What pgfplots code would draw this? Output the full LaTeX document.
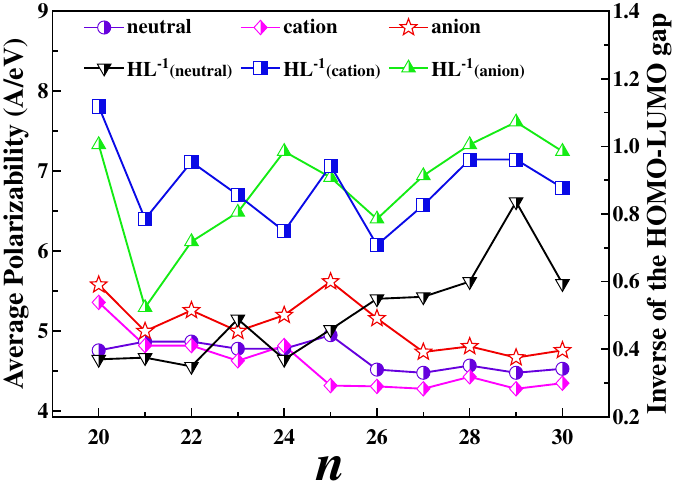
\documentclass[border=0pt]{standalone}
\usepackage[T1]{fontenc}
\renewcommand{\rmdefault}{ptm}
\usepackage{pgfplots}
\pgfplotsset{compat=1.18}
\definecolor{cneu}{RGB}{102,0,221}
\definecolor{ccat}{RGB}{255,0,255}
\definecolor{cani}{RGB}{240,0,0}
\definecolor{cblu}{RGB}{10,10,230}
\definecolor{cgrn}{RGB}{20,235,20}

% half-filled marks: left half white, right half fill colour
\pgfdeclareplotmark{hcirc}{%
 \begin{pgfscope}\pgfsetfillcolor{white}\pgfpathcircle{\pgfpointorigin}{\pgfplotmarksize}\pgfusepathqfill\end{pgfscope}%
 \pgfpathmoveto{\pgfqpoint{0pt}{\pgfplotmarksize}}%
 \pgfpatharc{90}{-90}{\pgfplotmarksize}%
 \pgfpathclose\pgfusepathqfill
 \pgfpathcircle{\pgfpointorigin}{\pgfplotmarksize}\pgfusepathqstroke}
\pgfdeclareplotmark{hdiam}{%
 \begin{pgfscope}\pgfsetfillcolor{white}%
 \pgfpathmoveto{\pgfqpoint{0pt}{1.1\pgfplotmarksize}}%
 \pgfpathlineto{\pgfqpoint{\pgfplotmarksize}{0pt}}%
 \pgfpathlineto{\pgfqpoint{0pt}{-1.1\pgfplotmarksize}}%
 \pgfpathlineto{\pgfqpoint{-\pgfplotmarksize}{0pt}}%
 \pgfpathclose\pgfusepathqfill\end{pgfscope}%
 \pgfpathmoveto{\pgfqpoint{0pt}{1.1\pgfplotmarksize}}%
 \pgfpathlineto{\pgfqpoint{\pgfplotmarksize}{0pt}}%
 \pgfpathlineto{\pgfqpoint{0pt}{-1.1\pgfplotmarksize}}%
 \pgfpathclose\pgfusepathqfill
 \pgfpathmoveto{\pgfqpoint{0pt}{1.1\pgfplotmarksize}}%
 \pgfpathlineto{\pgfqpoint{\pgfplotmarksize}{0pt}}%
 \pgfpathlineto{\pgfqpoint{0pt}{-1.1\pgfplotmarksize}}%
 \pgfpathlineto{\pgfqpoint{-\pgfplotmarksize}{0pt}}%
 \pgfpathclose\pgfusepathqstroke}
\pgfdeclareplotmark{hsq}{%
 \begin{pgfscope}\pgfsetfillcolor{white}%
 \pgfpathrectanglecorners{\pgfqpoint{-\pgfplotmarksize}{-\pgfplotmarksize}}{\pgfqpoint{\pgfplotmarksize}{\pgfplotmarksize}}\pgfusepathqfill\end{pgfscope}%
 \pgfpathrectanglecorners{\pgfqpoint{0pt}{-\pgfplotmarksize}}{\pgfqpoint{\pgfplotmarksize}{\pgfplotmarksize}}\pgfusepathqfill
 \pgfpathrectanglecorners{\pgfqpoint{-\pgfplotmarksize}{-\pgfplotmarksize}}{\pgfqpoint{\pgfplotmarksize}{\pgfplotmarksize}}\pgfusepathqstroke}
\pgfdeclareplotmark{hdtri}{%
 \begin{pgfscope}\pgfsetfillcolor{white}%
 \pgfpathmoveto{\pgfqpoint{0pt}{-1.2\pgfplotmarksize}}%
 \pgfpathlineto{\pgfqpoint{1.04\pgfplotmarksize}{0.6\pgfplotmarksize}}%
 \pgfpathlineto{\pgfqpoint{-1.04\pgfplotmarksize}{0.6\pgfplotmarksize}}%
 \pgfpathclose\pgfusepathqfill\end{pgfscope}%
 \pgfpathmoveto{\pgfqpoint{0pt}{-1.2\pgfplotmarksize}}%
 \pgfpathlineto{\pgfqpoint{1.04\pgfplotmarksize}{0.6\pgfplotmarksize}}%
 \pgfpathlineto{\pgfqpoint{0pt}{0.6\pgfplotmarksize}}%
 \pgfpathclose\pgfusepathqfill
 \pgfpathmoveto{\pgfqpoint{0pt}{-1.2\pgfplotmarksize}}%
 \pgfpathlineto{\pgfqpoint{1.04\pgfplotmarksize}{0.6\pgfplotmarksize}}%
 \pgfpathlineto{\pgfqpoint{-1.04\pgfplotmarksize}{0.6\pgfplotmarksize}}%
 \pgfpathclose\pgfusepathqstroke}
\pgfdeclareplotmark{hutri}{%
 \begin{pgfscope}\pgfsetfillcolor{white}%
 \pgfpathmoveto{\pgfqpoint{0pt}{1.2\pgfplotmarksize}}%
 \pgfpathlineto{\pgfqpoint{1.04\pgfplotmarksize}{-0.6\pgfplotmarksize}}%
 \pgfpathlineto{\pgfqpoint{-1.04\pgfplotmarksize}{-0.6\pgfplotmarksize}}%
 \pgfpathclose\pgfusepathqfill\end{pgfscope}%
 \pgfpathmoveto{\pgfqpoint{0pt}{1.2\pgfplotmarksize}}%
 \pgfpathlineto{\pgfqpoint{1.04\pgfplotmarksize}{-0.6\pgfplotmarksize}}%
 \pgfpathlineto{\pgfqpoint{0pt}{-0.6\pgfplotmarksize}}%
 \pgfpathclose\pgfusepathqfill
 \pgfpathmoveto{\pgfqpoint{0pt}{1.2\pgfplotmarksize}}%
 \pgfpathlineto{\pgfqpoint{1.04\pgfplotmarksize}{-0.6\pgfplotmarksize}}%
 \pgfpathlineto{\pgfqpoint{-1.04\pgfplotmarksize}{-0.6\pgfplotmarksize}}%
 \pgfpathclose\pgfusepathqstroke}
\pgfdeclareplotmark{ostar}{%
 \pgfpathmoveto{\pgfpointpolar{90}{1.3\pgfplotmarksize}}%
 \pgfpathlineto{\pgfpointpolar{126}{0.55\pgfplotmarksize}}%
 \pgfpathlineto{\pgfpointpolar{162}{1.3\pgfplotmarksize}}%
 \pgfpathlineto{\pgfpointpolar{198}{0.55\pgfplotmarksize}}%
 \pgfpathlineto{\pgfpointpolar{234}{1.3\pgfplotmarksize}}%
 \pgfpathlineto{\pgfpointpolar{270}{0.55\pgfplotmarksize}}%
 \pgfpathlineto{\pgfpointpolar{306}{1.3\pgfplotmarksize}}%
 \pgfpathlineto{\pgfpointpolar{342}{0.55\pgfplotmarksize}}%
 \pgfpathlineto{\pgfpointpolar{18}{1.3\pgfplotmarksize}}%
 \pgfpathlineto{\pgfpointpolar{54}{0.55\pgfplotmarksize}}%
 \pgfpathclose\pgfusepathqfillstroke}

\pgfplotsset{
 sneu/.style={color=cneu, line width=1.8pt, mark=hcirc, mark size=6.3pt, mark options={solid, fill=cneu, line width=0.9pt}},
 scat/.style={color=ccat, line width=1.8pt, mark=hdiam, mark size=6.3pt, mark options={solid, fill=ccat, line width=0.9pt}},
 sani/.style={color=cani, line width=1.8pt, mark=ostar, mark size=6.5pt, mark options={solid, fill=white, line width=1.1pt}},
 shln/.style={color=black, line width=1.8pt, mark=hdtri, mark size=6.3pt, mark options={solid, fill=black, line width=0.9pt}},
 shlc/.style={color=cblu, line width=1.8pt, mark=hsq, mark size=6.3pt, mark options={solid, fill=cblu, line width=0.9pt}},
 shla/.style={color=cgrn, line width=1.8pt, mark=hutri, mark size=6.3pt, mark options={solid, fill=cgrn, line width=0.9pt}},
 baseax/.style={
  scale only axis, width=535pt, height=390pt,
  xmin=19, xmax=31,
  tick align=inside,
  major tick length=8pt, minor tick length=5pt,
  axis line style={line width=1.5pt, black},
  every tick/.style={black, line width=1.5pt},
  every minor tick/.style={black, line width=1.5pt},
  tick label style={font=\fontsize{21}{24}\selectfont\bfseries},
  /pgf/number format/assume math mode=true,
 },
}

\begin{document}
\begin{tikzpicture}
\begin{axis}[baseax,
  ymin=3.93, ymax=9,
  xtick={20,22,24,26,28,30}, minor x tick num=1,
  ytick={4,5,6,7,8,9}, minor y tick num=1,
  xtick pos=left, ytick pos=left,
  xticklabel style={yshift=-9pt},
  xlabel={\fontsize{50}{52}\selectfont\bfseries\itshape n},
  xlabel style={yshift=-4pt},
  ylabel={\fontsize{27}{29}\selectfont\bfseries Average Polarizability (A/eV)},
  ylabel style={yshift=2pt},
]
\addplot[sneu] coordinates {(20,4.76) (21,4.87) (22,4.87) (23,4.78) (24,4.78) (25,4.95) (26,4.52) (27,4.48) (28,4.57) (29,4.48) (30,4.53)};
\addplot[scat] coordinates {(20,5.36) (21,4.82) (22,4.82) (23,4.63) (24,4.82) (25,4.32) (26,4.31) (27,4.28) (28,4.43) (29,4.28) (30,4.35)};
\addplot[sani] coordinates {(20,5.58) (21,5.00) (22,5.26) (23,5.00) (24,5.20) (25,5.62) (26,5.16) (27,4.74) (28,4.81) (29,4.67) (30,4.76)};
\path (rel axis cs:0,1) ++(0pt,14pt);
\path (rel axis cs:0.5,0) ++(0pt,-92pt);
\end{axis}
\begin{axis}[baseax,
  ymin=0.2, ymax=1.4,
  axis x line=none, axis y line*=right,
  ytick={0.2,0.4,0.6,0.8,1.0,1.2,1.4}, minor y tick num=1,
  yticklabel style={/pgf/number format/.cd, fixed, fixed zerofill, precision=1},
  ylabel={\fontsize{26.5}{28}\selectfont\bfseries Inverse of the HOMO-LUMO gap},
  legend columns=3,
  legend style={at={(0.05,0.99)}, anchor=north west, draw=none, fill=none,
    font=\fontsize{20}{22}\selectfont\bfseries, row sep=18pt,
    /tikz/every even column/.append style={column sep=5pt}},
  legend cell align=left,
  legend image code/.code={\draw[mark repeat=2, mark phase=2, #1] plot coordinates {(0pt,0pt) (19pt,0pt) (38pt,0pt)};},
]
\addlegendimage{sneu}
\addlegendimage{scat}
\addlegendimage{sani}
\addplot[shln] coordinates {(20,0.370) (21,0.375) (22,0.349) (23,0.489) (24,0.370) (25,0.458) (26,0.549) (27,0.555) (28,0.600) (29,0.836) (30,0.594)};
\addplot[shla, forget plot] coordinates {(20,1.005) (21,0.523) (22,0.718) (23,0.805) (24,0.985) (25,0.908) (26,0.785) (27,0.913) (28,1.005) (29,1.072) (30,0.985)};
\addplot[shlc] coordinates {(20,1.118) (21,0.785) (22,0.954) (23,0.856) (24,0.749) (25,0.943) (26,0.708) (27,0.826) (28,0.961) (29,0.961) (30,0.877)};
\addlegendimage{shla}
\legend{neutral, cation, anion,
  HL\textsuperscript{-1}{\fontsize{16}{16}\selectfont(neutral)},
  HL\textsuperscript{-1}{\fontsize{16}{16}\selectfont(cation)},
  HL\textsuperscript{-1}{\fontsize{16}{16}\selectfont(anion)}}
\end{axis}
\end{tikzpicture}
\end{document}
